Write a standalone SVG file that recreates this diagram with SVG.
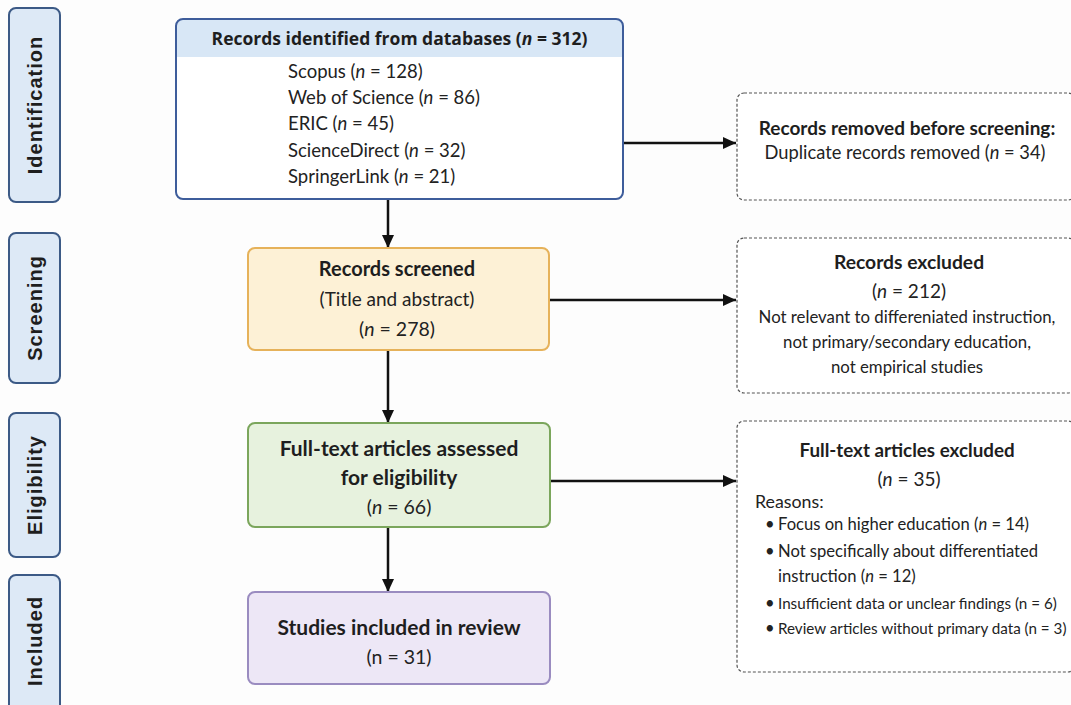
<svg xmlns="http://www.w3.org/2000/svg" width="1071" height="705" viewBox="0 0 1071 705">
<style>
.phase{fill:#dde9f6;stroke:#3c5a86;stroke-width:2}
.phtxt{font-family:"Liberation Sans",Arial,sans-serif;font-weight:bold;font-size:20px;letter-spacing:1px;fill:#1e1e1e;text-anchor:middle}
.t{font-family:Lato,"Open Sans",sans-serif;fill:#222}
.b{font-family:Lato,"Open Sans",sans-serif;font-weight:bold;fill:#1e1e1e}
.hdr{font-family:"Open Sans","Liberation Sans",sans-serif;font-size:17.5px;font-weight:bold;fill:#1e1e1e}
.c{text-anchor:middle}
.dash{fill:#fff;stroke:#555;stroke-width:1.2;stroke-dasharray:3 2}
.conn{stroke:#111;stroke-width:2.5;fill:none}
</style>
<defs>
<marker id="ah" markerUnits="userSpaceOnUse" markerWidth="13" markerHeight="12" refX="13" refY="6" orient="auto">
<path d="M0,0 L13,6 L0,12 z" fill="#111"/>
</marker>
</defs>
<rect width="1071" height="705" fill="#fdfdfd"/>

<g id="phase-identification">
<rect class="phase" x="9" y="8" width="51" height="194" rx="7"/>
<text class="phtxt" transform="translate(42,105) rotate(-90)">Identification</text>
</g>
<g id="phase-screening">
<rect class="phase" x="9" y="233" width="51" height="150" rx="7"/>
<text class="phtxt" transform="translate(42,308) rotate(-90)">Screening</text>
</g>
<g id="phase-eligibility">
<rect class="phase" x="9" y="413" width="51" height="144" rx="7"/>
<text class="phtxt" transform="translate(42,485) rotate(-90)">Eligibility</text>
</g>
<g id="phase-included">
<rect class="phase" x="9" y="575" width="51" height="140" rx="7"/>
<text class="phtxt" transform="translate(42,641) rotate(-90)">Included</text>
</g>

<g id="connectors">
<line class="conn" x1="388" y1="199" x2="388" y2="248" marker-end="url(#ah)"/>
<line class="conn" x1="388" y1="350" x2="388" y2="423" marker-end="url(#ah)"/>
<line class="conn" x1="388" y1="527" x2="388" y2="592" marker-end="url(#ah)"/>
<line class="conn" x1="623" y1="143" x2="736" y2="143" marker-end="url(#ah)"/>
<line class="conn" x1="549" y1="300" x2="736" y2="300" marker-end="url(#ah)"/>
<line class="conn" x1="550" y1="481" x2="736" y2="481" marker-end="url(#ah)"/>
</g>

<g id="node-identified">
<rect x="176" y="19" width="447" height="180" rx="7" fill="#fff"/>
<path d="M176,57 V26 a7,7 0 0 1 7,-7 H616 a7,7 0 0 1 7,7 V57 z" fill="#d8e7f6"/>
<rect x="176" y="19" width="447" height="180" rx="7" fill="none" stroke="#3e5d9b" stroke-width="2"/>
<text class="hdr c" x="399.5" y="45">Records identified from databases (<tspan font-style="italic">n</tspan> = 312)</text>
<g class="t" font-size="18.5">
<text x="288" y="78">Scopus (<tspan font-style="italic">n</tspan> = 128)</text>
<text x="288" y="104">Web of Science (<tspan font-style="italic">n</tspan> = 86)</text>
<text x="288" y="130">ERIC (<tspan font-style="italic">n</tspan> = 45)</text>
<text x="288" y="157">ScienceDirect (<tspan font-style="italic">n</tspan> = 32)</text>
<text x="288" y="183">SpringerLink (<tspan font-style="italic">n</tspan> = 21)</text>
</g>
</g>

<g id="node-screened">
<rect x="248" y="248" width="301" height="102" rx="7" fill="#fdf1d6" stroke="#e6b25a" stroke-width="2"/>
<text class="b c" font-size="20" x="397" y="276">Records screened</text>
<text class="t c" font-size="19" x="397" y="306">(Title and abstract)</text>
<text class="t c" font-size="19.5" x="397" y="336">(<tspan font-style="italic">n</tspan> = 278)</text>
</g>

<g id="node-eligibility">
<rect x="248" y="423" width="302" height="104" rx="7" fill="#e7f2de" stroke="#7ba65c" stroke-width="2"/>
<text class="b c" font-size="21" x="399" y="456">Full-text articles assessed</text>
<text class="b c" font-size="21" x="399" y="485">for eligibility</text>
<text class="t c" font-size="19.5" x="399" y="514">(<tspan font-style="italic">n</tspan> = 66)</text>
</g>

<g id="node-included">
<rect x="248" y="592" width="302" height="92" rx="7" fill="#ede7f6" stroke="#9a8cc0" stroke-width="2"/>
<text class="b c" font-size="21" x="399" y="635">Studies included in review</text>
<text class="t c" font-size="19.5" x="399" y="664">(n = 31)</text>
</g>

<g id="node-removed">
<rect class="dash" x="737" y="93" width="338" height="107" rx="7"/>
<text class="b c" font-size="19" x="907" y="135">Records removed before screening:</text>
<text class="t c" font-size="18.3" x="905" y="159">Duplicate records removed (<tspan font-style="italic">n</tspan> = 34)</text>
</g>

<g id="node-excluded">
<rect class="dash" x="737" y="238" width="338" height="155" rx="7"/>
<text class="b c" font-size="19.3" x="909" y="269">Records excluded</text>
<text class="t c" font-size="19" x="909" y="298">(<tspan font-style="italic">n</tspan> = 212)</text>
<g class="t" font-size="16.8" text-anchor="middle">
<text x="907" y="323">Not relevant to differeniated instruction,</text>
<text x="907" y="348">not primary/secondary education,</text>
<text x="907" y="373">not empirical studies</text>
</g>
</g>

<g id="node-fulltext-excluded">
<rect class="dash" x="737" y="421" width="338" height="251" rx="7"/>
<text class="b c" font-size="18.8" x="907" y="457">Full-text articles excluded</text>
<text class="t c" font-size="19" x="909" y="486">(<tspan font-style="italic">n</tspan> = 35)</text>
<g class="t" font-size="16.6">
<text x="755" y="508" font-size="17.8">Reasons:</text>
<text x="765" y="530">•</text>
<text x="778" y="530">Focus on higher education (<tspan font-style="italic">n</tspan> = 14)</text>
<text x="765" y="557">•</text>
<text x="778" y="557">Not specifically about differentiated</text>
<text x="778" y="582">instruction (<tspan font-style="italic">n</tspan> = 12)</text>
<text x="765" y="609">•</text>
<text x="778" y="609" font-size="15.2">Insufficient data or unclear findings (n = 6)</text>
<text x="765" y="634">•</text>
<text x="778" y="634" font-size="15.2">Review articles without primary data (n = 3)</text>
</g>
</g>
</svg>
